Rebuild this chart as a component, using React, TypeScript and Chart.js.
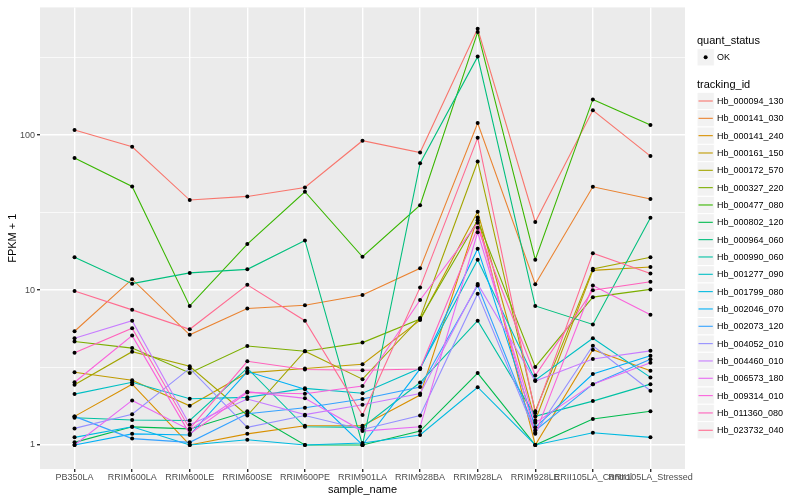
import React, { useEffect, useRef } from 'react';
import { Chart, registerables } from 'chart.js';

Chart.register(...registerables);

const FONT = '"Liberation Sans", Arial, Helvetica, sans-serif';

const sampleNames = [
  'PB350LA', 'RRIM600LA', 'RRIM600LE', 'RRIM600SE', 'RRIM600PE', 'RRIM901LA',
  'RRIM928BA', 'RRIM928LA', 'RRIM928LE', 'RRII105LA_Control', 'RRII105LA_Stressed',
];

const trackingIds = [
  'Hb_000094_130', 'Hb_000141_030', 'Hb_000141_240', 'Hb_000161_150', 'Hb_000172_570',
  'Hb_000327_220', 'Hb_000477_080', 'Hb_000802_120', 'Hb_000964_060', 'Hb_000990_060',
  'Hb_001277_090', 'Hb_001799_080', 'Hb_002046_070', 'Hb_002073_120', 'Hb_004052_010',
  'Hb_004460_010', 'Hb_006573_180', 'Hb_009314_010', 'Hb_011360_080', 'Hb_023732_040',
];

const seriesColors = [
  '#F8766D', '#EA8331', '#D89000', '#C09B00', '#A3A500',
  '#7CAE00', '#39B600', '#00BB4E', '#00BF7D', '#00C1A3',
  '#00BFC4', '#00BAE0', '#00B0F6', '#35A2FF', '#9590FF',
  '#C77CFF', '#E76BF3', '#FA62DB', '#FF62BC', '#FF6C91',
];

// FPKM + 1 values, one entry per sample
const hb_000094_130 = [108, 84, 38.1, 40.2, 45.9, 92, 77.2, 485, 27.5, 144.6, 73.2];
const hb_000141_030 = [5.42, 11.75, 5.14, 7.6, 7.98, 9.29, 13.8, 119.5, 10.9, 46.4, 38.7];
const hb_000141_240 = [1.53, 2.47, 1.0, 1.18, 1.33, 1.33, 2.1, 29.4, 1.0, 4.12, 3.01];
const hb_000161_150 = [2.95, 2.62, 1.79, 2.92, 3.12, 3.32, 6.4, 32, 1.44, 13.4, 14.1];
const hb_000172_570 = [2.45, 4.0, 3.22, 1.55, 4.03, 2.66, 6.6, 67.6, 1.65, 13.7, 16.3];
const hb_000327_220 = [4.66, 4.22, 2.92, 4.35, 4.03, 4.58, 6.5, 28.2, 3.19, 9.0, 10.1];
const hb_000477_080 = [71.1, 46.6, 7.9, 19.8, 43.1, 16.4, 35.3, 462, 15.7, 170, 116];
const hb_000802_120 = [1.04, 1.31, 1.27, 1.65, 1.0, 1.0, 1.23, 2.91, 1.0, 1.47, 1.65];
const hb_000964_060 = [16.3, 11.0, 12.9, 13.6, 20.9, 1.0, 65.8, 321, 7.9, 6.0, 29.3];
const hb_000990_060 = [1.5, 1.45, 1.44, 3.13, 1.31, 1.3, 2.53, 6.34, 1.53, 1.92, 2.47];
const hb_001277_090 = [2.13, 2.54, 1.99, 2.03, 2.32, 2.16, 3.13, 15.7, 2.62, 4.89, 2.73];
const hb_001799_080 = [1.12, 1.31, 1.0, 1.08, 1.0, 1.03, 1.16, 2.36, 1.0, 1.2, 1.12];
const hb_002046_070 = [1.0, 1.18, 1.16, 2.98, 2.29, 1.0, 3.1, 18.5, 1.3, 2.87, 3.77];
const hb_002073_120 = [1.53, 1.1, 1.04, 1.59, 1.74, 1.98, 2.37, 10.7, 1.24, 2.47, 3.57];
const hb_004052_010 = [1.28, 1.58, 3.12, 1.3, 1.55, 1.26, 1.55, 9.48, 1.2, 4.37, 2.24];
const hb_004460_010 = [4.89, 6.34, 1.35, 1.98, 1.57, 1.82, 2.15, 10.96, 2.59, 3.59, 4.05];
const hb_006573_180 = [1.0, 1.94, 1.25, 2.21, 2.0, 1.23, 1.31, 23.6, 1.39, 2.47, 3.4];
const hb_009314_010 = [2.54, 5.08, 1.18, 2.18, 2.14, 2.4, 8.63, 27.2, 1.18, 10.7, 6.93];
const hb_011360_080 = [3.94, 5.67, 1.27, 3.47, 3.07, 3.04, 3.09, 25.2, 2.81, 9.97, 11.3];
const hb_023732_040 = [9.86, 7.45, 5.58, 10.8, 6.34, 1.56, 10.4, 96, 1.61, 17.3, 12.8];

const seriesValues = [
  hb_000094_130, hb_000141_030, hb_000141_240, hb_000161_150, hb_000172_570,
  hb_000327_220, hb_000477_080, hb_000802_120, hb_000964_060, hb_000990_060,
  hb_001277_090, hb_001799_080, hb_002046_070, hb_002073_120, hb_004052_010,
  hb_004460_010, hb_006573_180, hb_009314_010, hb_011360_080, hb_023732_040,
];

const yMajorTicks = [1, 10, 100];
const yMinorTicks = [3.1623, 31.623, 316.23];
const yMin = 0.727;
const yMax = 667;

const isMajor = (v: number) => yMajorTicks.some((m) => Math.abs(m - v) < 1e-6 * m);

export default function App() {
  const ref = useRef<HTMLCanvasElement>(null);

  useEffect(() => {
    document.body.style.margin = '0';
    const canvas = ref.current;
    if (!canvas) return;

    const panelBg = {
      id: 'panelBg',
      beforeDraw(chart: any) {
        const { ctx, chartArea: a } = chart;
        ctx.save();
        ctx.fillStyle = '#EBEBEB';
        ctx.fillRect(a.left, a.top, a.right - a.left, a.bottom - a.top);
        ctx.restore();
      },
    };

    const ggLegend = {
      id: 'ggLegend',
      afterDraw(chart: any) {
        const ctx = chart.ctx as CanvasRenderingContext2D;
        const kx = 697;
        const kw = 17.3;
        const drawKey = (cy: number) => {
          ctx.fillStyle = '#F2F2F2';
          ctx.fillRect(kx, cy - kw / 2, kw, kw);
          ctx.strokeStyle = '#FFFFFF';
          ctx.lineWidth = 1;
          ctx.strokeRect(kx, cy - kw / 2, kw, kw);
        };
        ctx.save();
        ctx.textBaseline = 'middle';
        ctx.textAlign = 'left';
        ctx.fillStyle = '#000';
        ctx.font = `11px ${FONT}`;
        ctx.fillText('quant_status', 697, 41);
        drawKey(57.3);
        ctx.fillStyle = '#000';
        ctx.beginPath();
        ctx.arc(kx + kw / 2, 57.3, 2, 0, Math.PI * 2);
        ctx.fill();
        ctx.font = `9px ${FONT}`;
        ctx.fillText('OK', 717, 57.8);
        ctx.font = `11px ${FONT}`;
        ctx.fillText('tracking_id', 697, 84.5);
        trackingIds.forEach((id, i) => {
          const cy = 101 + i * 17.33;
          drawKey(cy);
          ctx.strokeStyle = seriesColors[i];
          ctx.lineWidth = 1.1;
          ctx.beginPath();
          ctx.moveTo(kx + 1.5, cy);
          ctx.lineTo(kx + kw - 1.5, cy);
          ctx.stroke();
          ctx.fillStyle = '#000';
          ctx.font = `9px ${FONT}`;
          ctx.fillText(id, 717, cy + 0.5);
        });
        ctx.restore();
      },
    };

    const datasets: any[] = seriesValues.map((vals, i) => ({
      label: trackingIds[i],
      data: vals.map((v, j) => ({ x: j, y: v })),
      borderColor: seriesColors[i],
      backgroundColor: seriesColors[i],
      borderWidth: 1.1,
      pointRadius: 0,
      pointHoverRadius: 0,
      fill: false,
      tension: 0,
      order: seriesValues.length - i,
    }));
    datasets.push({
      label: 'OK',
      data: seriesValues.flatMap((vals) => vals.map((v, j) => ({ x: j, y: v }))),
      showLine: false,
      pointRadius: 2,
      pointHoverRadius: 2,
      pointBackgroundColor: '#000000',
      pointBorderColor: '#000000',
      pointBorderWidth: 0,
      order: -1,
    });

    const chart = new Chart(canvas, {
      type: 'line',
      data: { datasets },
      plugins: [panelBg, ggLegend],
      options: {
        responsive: false,
        animation: false,
        devicePixelRatio: 1,
        layout: { padding: { left: 0, right: 115, top: 5, bottom: 0 } },
        plugins: { legend: { display: false }, tooltip: { enabled: false } },
        scales: {
          x: {
            type: 'linear',
            min: -0.6,
            max: 10.6,
            afterBuildTicks: (s: any) => {
              s.ticks = sampleNames.map((_, i) => ({ value: i }));
            },
            afterFit: (s: any) => {
              s.height = 31;
            },
            ticks: {
              autoSkip: false,
              maxRotation: 0,
              minRotation: 0,
              color: '#4D4D4D',
              font: { family: FONT, size: 9 },
              padding: 0,
              callback: (v: any) => sampleNames[Math.round(Number(v))] ?? '',
            },
            grid: { color: '#FFFFFF', lineWidth: 1.4, tickColor: '#333333', tickLength: 3 },
            border: { display: false },
            title: {
              display: true,
              text: 'sample_name',
              color: '#000',
              font: { family: FONT, size: 11 },
              padding: { top: 0, bottom: 3 },
            },
          },
          y: {
            type: 'logarithmic',
            min: yMin,
            max: yMax,
            afterBuildTicks: (s: any) => {
              s.ticks = [...yMajorTicks, ...yMinorTicks].sort((a, b) => a - b).map((v) => ({ value: v }));
            },
            afterFit: (s: any) => {
              s.width = 40;
            },
            ticks: {
              color: '#4D4D4D',
              font: { family: FONT, size: 9 },
              padding: 2,
              callback: (v: any) => (isMajor(Number(v)) ? String(Math.round(Number(v))) : ''),
            },
            grid: {
              color: '#FFFFFF',
              lineWidth: (c: any) => (c.tick && isMajor(c.tick.value) ? 1.4 : 0.7),
              tickColor: (c: any) => (c.tick && isMajor(c.tick.value) ? '#333333' : 'rgba(0,0,0,0)'),
              tickLength: 3,
            },
            border: { display: false },
            title: {
              display: true,
              text: 'FPKM + 1',
              color: '#000',
              font: { family: FONT, size: 11 },
              padding: { top: 6, bottom: 0 },
            },
          },
        },
      } as any,
    });

    return () => chart.destroy();
  }, []);

  return <canvas ref={ref} width={800} height={500} style={{ display: 'block', width: 800, height: 500 }} />;
}
